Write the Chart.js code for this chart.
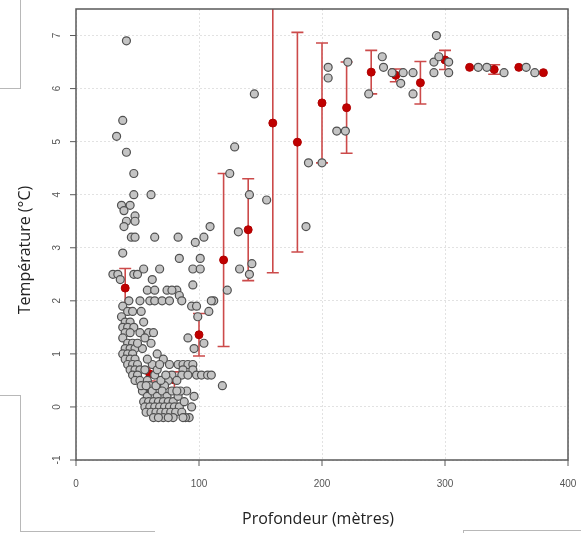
<!DOCTYPE html>
<html>
<head>
<meta charset="utf-8">
<script src="https://cdn.jsdelivr.net/npm/chart.js@4.4.1/dist/chart.umd.min.js"></script>
<style>
  body { margin: 0; background: #fff; }
  #wrap { position: relative; width: 581px; height: 533px; }
  .ln { position: absolute; background: #b8b8b8; }
</style>
</head>
<body>
<div id="wrap">
  <canvas id="tempChart" width="581" height="533"></canvas>
  <!-- bords de capture -->
  <div class="ln" style="left:20px;top:0;width:1px;height:88px"></div>
  <div class="ln" style="left:0;top:88px;width:21px;height:1px"></div>
  <div class="ln" style="left:0;top:395px;width:21px;height:1px"></div>
  <div class="ln" style="left:20px;top:395px;width:1px;height:137px"></div>
  <div class="ln" style="left:20px;top:531px;width:135px;height:1px"></div>
  <div class="ln" style="left:463px;top:530px;width:118px;height:1px"></div>
  <div class="ln" style="left:463px;top:530px;width:1px;height:3px"></div>
</div>
<script>
// mesures individuelles (profondeur m, température °C)
const mesures = [
  [41,6.9],[38,5.4],[33,5.1],[41,4.8],[47,4.4],[47,4.0],[61,4.0],
  [37,3.8],[44,3.8],[39,3.7],[48,3.6],[41,3.5],[48,3.5],[39,3.4],[45,3.2],[48,3.2],[64,3.2],[38,2.9],
  [30,2.5],[34,2.5],[36,2.4],[47,2.5],[50,2.5],[55,2.6],[68,2.6],[62,2.4],[58,2.2],[64,2.2],[74,2.2],
  [82,2.2],[43,2.0],[52,2.0],[60,2.0],[64,2.0],[70,2.0],[76,2.0],[78,2.2],
  [83,3.2],[97,3.1],[104,3.2],[109,3.4],[132,3.3],[84,2.8],[101,2.8],[95,2.6],[101,2.6],[95,2.3],
  [123,2.2],[133,2.6],[84,2.1],[86,2.0],[112,2.0],[94,1.9],[98,1.9],[110,2.0],[108,1.8],[99,1.7],
  [91,1.3],[104,1.2],[96,1.1],[119,0.4],
  [125,4.4],[129,4.9],[145,5.9],[141,4.0],[155,3.9],[141,2.5],[143,2.7],
  [187,3.4],[189,4.6],[200,4.6],[205,6.4],[205,6.2],[212,5.2],[219,5.2],[221,6.5],[238,5.9],
  [249,6.6],[250,6.4],[257,6.3],[266,6.3],[264,6.1],[274,6.3],[274,5.9],[293,7.0],[291,6.5],
  [291,6.3],[295,6.6],[303,6.5],[303,6.3],[327,6.4],[334,6.4],[348,6.3],[366,6.4],[373,6.3],
  [38,1.9],[42,1.8],[46,1.8],[37,1.7],[40,1.6],[44,1.6],[38,1.5],[42,1.5],[47,1.5],[53,1.8],
  [40,1.4],[44,1.4],[38,1.3],[42,1.2],[46,1.2],[40,1.1],[44,1.1],[48,1.1],[38,1.0],[42,1.0],
  [46,1.0],[40,0.9],[44,0.9],[48,0.9],[42,0.8],[46,0.8],[50,0.8],[44,0.7],[48,0.7],[52,0.7],
  [46,0.6],[50,0.6],[48,0.5],[52,0.5],
  [52,1.4],[59,1.4],[63,1.4],[55,1.6],[61,1.2],[66,1.0],[71,0.9],[76,0.8],
  [56,0.7],[62,0.8],[58,0.5],[64,0.6],[66,0.7],[55,0.3],[60,0.4],
  [83,0.8],[87,0.8],[91,0.8],[95,0.8],[87,0.7],[95,0.7],[86,0.6],[91,0.6],[98,0.6],[102,0.6],
  [107,0.6],[110,0.6],[78,0.6],[82,0.5],[75,0.5],[72,0.4],
  [54,0.3],[58,0.2],[62,0.3],[66,0.2],[70,0.3],[74,0.2],[78,0.3],
  [55,0.1],[59,0.1],[63,0.1],[67,0.1],[71,0.1],[75,0.1],[79,0.1],[83,0.2],
  [56,0.0],[60,0.0],[64,0.0],[68,0.0],[72,0.0],[76,0.0],[80,0.0],[84,0.0],
  [57,-0.1],[61,-0.1],[65,-0.1],[69,-0.1],[73,-0.1],[77,-0.1],[81,-0.1],
  [63,-0.2],[71,-0.2],[79,-0.2],[86,-0.1],[88,0.1],[90,0.3],[92,-0.2],[94,0.0],[96,0.2],[89,-0.2],
  [53,0.4],[57,0.4],[65,0.4],[69,0.5],[73,0.6],[68,0.8],[58,0.9],[54,1.1],[50,1.2],[56,1.3],
  [85,0.3],[87,-0.2],[82,0.3],[67,-0.2],[75,-0.2]
];

// moyennes par classe de profondeur et écart-type
const profMoy = [40,60,80,100,120,140,160,180,200,220,240,260,280,300,320,340,360,380];
const tempMoy = [2.24,0.62,0.51,1.36,2.77,3.34,5.35,4.99,5.73,5.64,6.31,6.25,6.11,6.54,6.40,6.36,6.40,6.30];
const ecart   = [0.37,0.13,0.15,0.40,1.63,0.96,2.82,2.07,1.13,0.86,0.41,0.12,0.40,0.18,0,0.09,0,0];

const xTicks = [0,100,200,300,400];
const yTicks = [-1,0,1,2,3,4,5,6,7];

const barres = {
  id: 'barres',
  beforeDatasetDraw(chart, args) {
    if (args.index !== 1) return;
    const { ctx, chartArea: a, scales: { x, y } } = chart;
    ctx.save();
    ctx.beginPath();
    ctx.rect(a.left, a.top, a.right - a.left, a.bottom - a.top);
    ctx.clip();
    ctx.strokeStyle = '#cc4a4a';
    ctx.lineWidth = 1.6;
    profMoy.forEach((p, i) => {
      if (!ecart[i]) return;
      const px = x.getPixelForValue(p);
      const y1 = y.getPixelForValue(tempMoy[i] + ecart[i]);
      const y2 = y.getPixelForValue(tempMoy[i] - ecart[i]);
      ctx.beginPath();
      ctx.moveTo(px, y1); ctx.lineTo(px, y2);
      ctx.moveTo(px - 6, y1); ctx.lineTo(px + 6, y1);
      ctx.moveTo(px - 6, y2); ctx.lineTo(px + 6, y2);
      ctx.stroke();
    });
    ctx.restore();
  }
};

const cadre = {
  id: 'cadre',
  afterDraw(chart) {
    const { ctx, chartArea: a, scales: { x, y } } = chart;
    ctx.save();
    ctx.strokeStyle = '#5a5a5a';
    ctx.lineWidth = 1.5;
    ctx.strokeRect(a.left, a.top, a.right - a.left, a.bottom - a.top);

    ctx.lineWidth = 1;
    ctx.fillStyle = '#555';
    ctx.font = '10px "Liberation Sans", Arial, sans-serif';
    ctx.textAlign = 'center';
    ctx.textBaseline = 'middle';
    xTicks.forEach(v => {
      const px = x.getPixelForValue(v);
      ctx.beginPath(); ctx.moveTo(px, a.bottom); ctx.lineTo(px, a.bottom + 6); ctx.stroke();
      ctx.fillText(String(v), px, a.bottom + 24);
    });
    yTicks.forEach(v => {
      const py = y.getPixelForValue(v);
      ctx.beginPath(); ctx.moveTo(a.left - 6, py); ctx.lineTo(a.left, py); ctx.stroke();
      ctx.save();
      ctx.translate(a.left - 19, py);
      ctx.rotate(-Math.PI / 2);
      ctx.fillText(String(v), 0, 0);
      ctx.restore();
    });

    ctx.fillStyle = '#222';
    ctx.font = '16px "Open Sans", sans-serif';
    ctx.fillText('Profondeur (mètres)', (a.left + a.right) / 2 - 4, 519);
    ctx.save();
    ctx.translate(25, 250);
    ctx.rotate(-Math.PI / 2);
    ctx.fillText('Température (°C)', 0, 0);
    ctx.restore();
    ctx.restore();
  }
};

const ctx = document.getElementById('tempChart').getContext('2d');
new Chart(ctx, {
  type: 'scatter',
  data: {
    datasets: [{
      data: mesures.map(m => ({ x: m[0], y: m[1] })),
      backgroundColor: '#c4c4c4',
      borderColor: '#505050',
      borderWidth: 1.2,
      pointRadius: 4,
      pointHoverRadius: 4
    }, {
      data: profMoy.map((p, i) => ({ x: p, y: tempMoy[i] })),
      backgroundColor: '#c00000',
      borderColor: '#b00000',
      borderWidth: 1,
      pointRadius: 4,
      pointHoverRadius: 4
    }]
  },
  options: {
    responsive: false,
    animation: false,
    layout: { padding: { left: 76, right: 13, top: 9, bottom: 73 } },
    plugins: { legend: { display: false }, tooltip: { enabled: false } },
    scales: {
      x: {
        type: 'linear', min: 0, max: 400,
        afterBuildTicks: s => { s.ticks = xTicks.map(v => ({ value: v })); },
        afterFit: s => { s.height = 0; },
        ticks: { display: false },
        grid: { color: '#e2e2e2', drawTicks: false },
        border: { display: false, dash: [2, 2] }
      },
      y: {
        type: 'linear', min: -1, max: 7.5,
        afterBuildTicks: s => { s.ticks = yTicks.map(v => ({ value: v })); },
        afterFit: s => { s.width = 0; },
        ticks: { display: false },
        grid: { color: '#e2e2e2', drawTicks: false },
        border: { display: false, dash: [2, 2] }
      }
    }
  },
  plugins: [barres, cadre]
});
</script>
</body>
</html>
